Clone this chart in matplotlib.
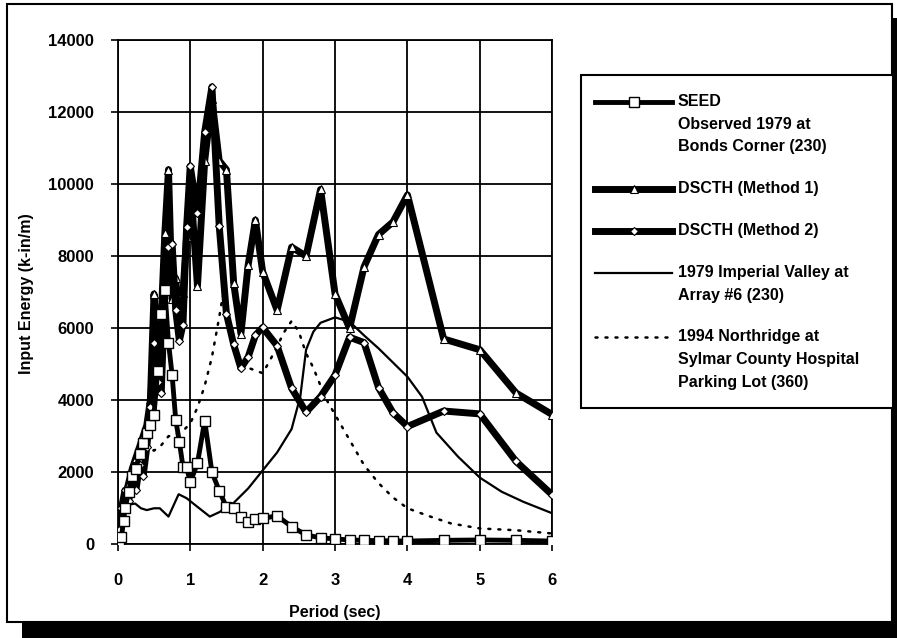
import matplotlib
matplotlib.use("Agg")
import matplotlib.pyplot as plt
from matplotlib.patches import Rectangle
from matplotlib.lines import Line2D

plt.rcParams['font.family'] = ['Liberation Sans', 'DejaVu Sans']
plt.rcParams['font.weight'] = 'bold'

# SEED, observed 1979 at Bonds Corner (230)
seed_t = [0.02, 0.05, 0.08, 0.1, 0.15, 0.2, 0.25, 0.3, 0.35, 0.4, 0.45, 0.5, 0.55, 0.6,
          0.65, 0.7, 0.75, 0.8, 0.85, 0.9, 0.95, 1.0, 1.1, 1.2, 1.3, 1.4, 1.5, 1.6, 1.7,
          1.8, 1.9, 2.0, 2.2, 2.4, 2.6, 2.8, 3.0, 3.2, 3.4, 3.6, 3.8, 4.0, 4.5, 5.0, 5.5, 6.0]
seed_e = [100, 200, 650, 1000, 1450, 1900, 2100, 2500, 2800, 3100, 3300, 3600, 4800, 6400,
          7050, 5600, 4700, 3450, 2850, 2150, 2150, 1720, 2250, 3430, 2000, 1490, 1030, 1000, 770,
          630, 690, 720, 790, 490, 260, 180, 150, 120, 110, 100, 95, 90, 110, 120, 110, 90]

# DSCTH method 1 and method 2 share the same periods
dsc_t = [0.02, 0.05, 0.1, 0.15, 0.2, 0.25, 0.3, 0.35, 0.4, 0.45, 0.5, 0.55, 0.6, 0.65, 0.7,
         0.75, 0.8, 0.85, 0.9, 0.95, 1.0, 1.1, 1.2, 1.3, 1.4, 1.5, 1.6, 1.7, 1.8, 1.9, 2.0,
         2.2, 2.4, 2.6, 2.8, 3.0, 3.2, 3.4, 3.6, 3.8, 4.0, 4.5, 5.0, 5.5, 6.0]
m1_e = [200, 700, 1300, 1700, 2100, 2400, 2700, 3000, 3300, 4000, 6950, 5400, 6300, 8650, 10400,
        6800, 7380, 6000, 6970, 8540, 10100, 7170, 10650, 12350, 10650, 10400, 7250, 5850, 7750, 9000, 7570,
        6500, 8250, 8000, 9850, 6950, 6000, 7700, 8600, 8950, 9700, 5700, 5400, 4200, 3600]
m2_e = [400, 1000, 1500, 1200, 1800, 1500, 2200, 1900, 2700, 3800, 5600, 4500, 4200, 7100, 8250,
        8350, 6500, 5650, 6100, 8800, 10500, 9200, 11450, 12700, 8850, 6400, 5550, 4890, 5200, 5800, 6020,
        5510, 4330, 3670, 4100, 4700, 5750, 5600, 4350, 3650, 3270, 3700, 3620, 2300, 1370]

# 1979 Imperial Valley at Array #6 (230)
iv_t = [0.02, 0.05, 0.08, 0.15, 0.24, 0.32, 0.4, 0.5, 0.58, 0.7, 0.84, 0.95, 1.1, 1.27, 1.41,
        1.53, 1.6, 1.8, 2.0, 2.2, 2.4, 2.52, 2.6, 2.7, 2.8, 3.0, 3.2, 3.4, 3.6, 4.0, 4.2,
        4.4, 4.7, 5.0, 5.3, 5.6, 6.0]
iv_e = [0, 600, 1200, 1100, 1130, 1000, 950, 1000, 1000, 770, 1390, 1280, 1040, 770, 900,
        1090, 1150, 1550, 2050, 2550, 3200, 4100, 5400, 5900, 6150, 6300, 6180, 5800, 5440, 4650, 4100,
        3100, 2430, 1850, 1460, 1180, 860]

# 1994 Northridge at Sylmar County Hospital Parking Lot (360)
nr_t = [0.02, 0.05, 0.1, 0.2, 0.3, 0.4, 0.5, 0.6, 0.7, 0.8, 0.9, 1.0, 1.1, 1.2, 1.3, 1.4, 1.45,
        1.5, 1.6, 1.7, 1.8, 2.0, 2.1, 2.2, 2.3, 2.4, 2.5, 2.6, 2.7, 2.8, 2.9, 3.0, 3.2, 3.4,
        3.6, 3.8, 4.0, 4.3, 4.6, 5.0, 5.5, 6.0]
nr_e = [0, 300, 900, 1800, 2500, 2700, 2600, 2750, 3000, 3050, 3150, 3350, 3800, 4400, 5200, 6300, 6900,
        6500, 5500, 5100, 4900, 4750, 5100, 5500, 5900, 6200, 5900, 5300, 4900, 4400, 3950, 3600, 2900, 2200,
        1700, 1300, 1000, 780, 580, 440, 390, 300]

W, H = 897, 638
fig = plt.figure(figsize=(W / 100, H / 100), dpi=100)
fig.patch.set_facecolor('white')

def fx(px):
    return px / W

def fy(py):
    return 1 - py / H

# drop shadow and frame of the chart area
fig.patches.append(Rectangle((fx(22), 0), 1 - fx(22), fy(18), transform=fig.transFigure,
                             facecolor='black', edgecolor='none', zorder=-2))
fig.patches.append(Rectangle((fx(7), fy(622)), fx(885), 618 / H, transform=fig.transFigure,
                             facecolor='white', edgecolor='black', linewidth=1.5, zorder=-1))

ax = fig.add_axes([fx(117.8), fy(544.3), fx(552.3 - 117.8), (544.3 - 40) / H])
ax.set_zorder(2)
ax.set_facecolor('white')

seed_style = dict(color='black', lw=3.5, marker='s', ms=6.5, mfc='white', mec='black', mew=1.0)
m1_style = dict(color='black', lw=5, marker='^', ms=5.5, mfc='white', mec='black', mew=0.8)
m2_style = dict(color='black', lw=5, marker='D', ms=4, mfc='white', mec='black', mew=0.8)
iv_style = dict(color='black', lw=1.6)
nr_style = dict(color='black', lw=1.8, linestyle=(0, (0.8, 3.2)), dash_capstyle='round')

ax.plot(seed_t, seed_e, zorder=5, **seed_style)
ax.plot(dsc_t, m1_e, zorder=4, **m1_style)
ax.plot(dsc_t, m2_e, zorder=4, **m2_style)
ax.plot(iv_t, iv_e, zorder=3, **iv_style)
ax.plot(nr_t, nr_e, zorder=3, **nr_style)

ax.set_xlim(0, 6)
ax.set_ylim(0, 14000)
ax.set_xticks(range(0, 7))
ax.set_yticks(range(0, 14001, 2000))
ax.grid(True, color='black', lw=1.3)
ax.set_axisbelow(True)
for s in ax.spines.values():
    s.set_color('black')
    s.set_linewidth(1.3)
ax.tick_params(axis='x', direction='out', length=5, width=1.2, pad=16, labelsize=12)
ax.tick_params(axis='y', direction='out', length=5, width=1.2, pad=12, labelsize=12)
for lab in ax.get_xticklabels() + ax.get_yticklabels():
    lab.set_fontweight('bold')

ax.set_xlabel('Period (sec)', fontsize=11.5, fontweight='bold', labelpad=12)
fig.text(fx(26), fy(294), 'Input Energy (k-in/m)', rotation=90, ha='center', va='center',
         fontsize=11.5, fontweight='bold')

# legend box, drawn by hand so the handles sit on the first text line
fig.patches.append(Rectangle((fx(581), fy(408)), fx(893 - 581), (408 - 74.5) / H,
                             transform=fig.transFigure, facecolor='white', edgecolor='black',
                             linewidth=1.5, zorder=3))
legend_rows = [
    (seed_style, 102, ['SEED', 'Observed 1979 at', 'Bonds Corner (230)']),
    (m1_style, 189, ['DSCTH (Method 1)']),
    (m2_style, 231, ['DSCTH (Method 2)']),
    (iv_style, 273, ['1979 Imperial Valley at', 'Array #6 (230)']),
    (nr_style, 337, ['1994 Northridge at', 'Sylmar County Hospital', 'Parking Lot (360)']),
]
for style, y0, lines in legend_rows:
    st = dict(style)
    st['markevery'] = [1]
    fig.lines.append(Line2D([fx(595), fx(634), fx(672)], [fy(y0)] * 3,
                            transform=fig.transFigure, zorder=4, **st))
    for i, txt in enumerate(lines):
        fig.text(fx(678), fy(y0 + 22.5 * i), txt, ha='left', va='center',
                 fontsize=11.5, fontweight='bold', zorder=4)

fig.savefig('out.png', dpi=100)
